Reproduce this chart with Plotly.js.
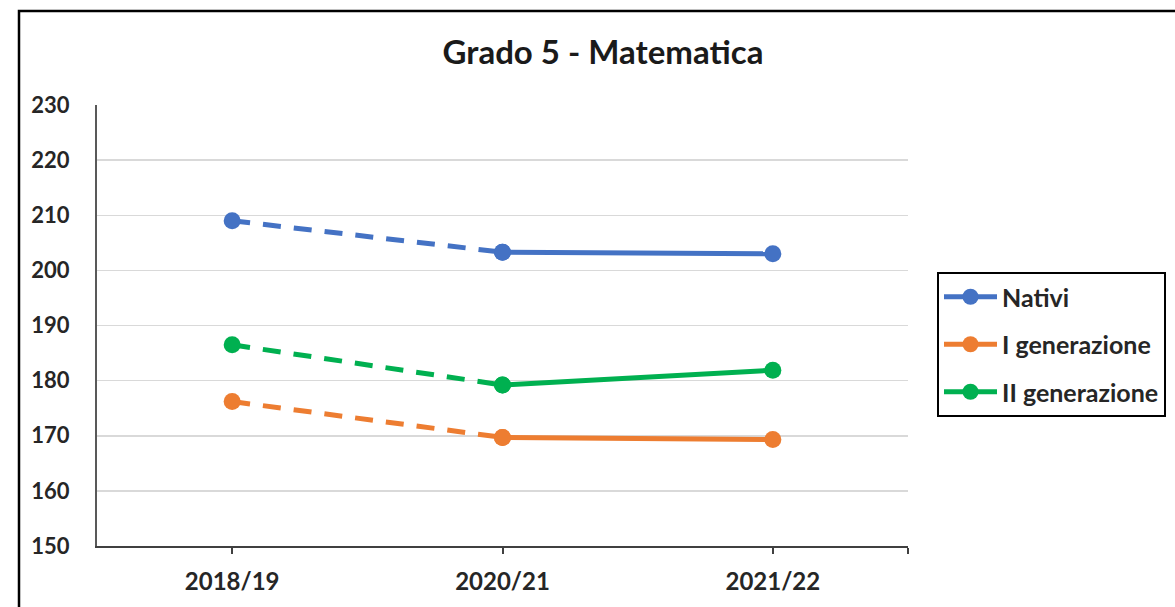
<!DOCTYPE html>
<html>
<head>
<meta charset="utf-8">
<script src="https://cdn.plot.ly/plotly-3.0.1.min.js"></script>
<style>
html,body{margin:0;padding:0;background:#fff;}
#chart{width:1175px;height:607px;}
</style>
</head>
<body>
<div id="chart"></div>
<script>
const categories = ['2018/19', '2020/21', '2021/22'];
const nativi = [209.0, 203.3, 203.0];
const primaGen = [176.2, 169.7, 169.3];
const secondaGen = [186.5, 179.2, 181.9];
const seriesNames = ['Nativi', 'I generazione', 'II generazione'];
const yTicks = [150, 160, 170, 180, 190, 200, 210, 220, 230];

const colors = ['#4472C4', '#ED7D31', '#00B050'];
const allSeries = [nativi, primaGen, secondaGen];
const xIdx = categories.map((_, i) => i);

const traces = [];
allSeries.forEach((vals, s) => {
  // dashed segment (first two years)
  traces.push({
    x: xIdx.slice(0, 2), y: vals.slice(0, 2),
    type: 'scatter', mode: 'lines+markers',
    line: {color: colors[s], width: 5, dash: '18px,13px'},
    marker: {color: colors[s], size: 17},
    name: seriesNames[s], legendgroup: 'g' + s, showlegend: false,
    hoverinfo: 'skip'
  });
  // solid segment (last two years)
  traces.push({
    x: xIdx.slice(1), y: vals.slice(1),
    type: 'scatter', mode: 'lines+markers',
    line: {color: colors[s], width: 5},
    marker: {color: colors[s], size: 17},
    name: seriesNames[s], legendgroup: 'g' + s, showlegend: true
  });
});

const L = 97, R = 908, T = 105, B = 546, W = 1175, H = 607;
const pw = R - L, ph = B - T;
const px = v => (v - L) / pw;
const py = v => (B - v) / ph;

const tickvals = xIdx.concat([2.5]);
const ticktext = categories.concat(['']);

const layout = {
  width: W, height: H,
  margin: {l: L, r: W - R, t: T, b: H - B, pad: 0, autoexpand: false},
  paper_bgcolor: '#fff', plot_bgcolor: '#fff',
  font: {family: 'Lato, "Open Sans", sans-serif', color: '#262626'},
  title: {
    text: '<b>Grado 5 - Matematica</b>',
    font: {size: 33, color: '#1a1a1a', family: 'Lato, sans-serif'},
    x: 603 / W, xref: 'container', xanchor: 'center',
    y: 1 - 52 / H, yref: 'container', yanchor: 'middle'
  },
  xaxis: {
    range: [-0.5, 2.5], tickmode: 'array', tickvals: tickvals, ticktext: ticktext,
    showgrid: false, zeroline: false,
    showline: true, linecolor: '#404040', linewidth: 2,
    ticks: 'outside', ticklen: 6, tickwidth: 2, tickcolor: '#404040',
    tickfont: {size: 24, family: 'Lato, sans-serif', color: '#262626', weight: 'bold'},
    ticklabelstandoff: 7, fixedrange: true
  },
  xaxis2: {
    overlaying: 'x', anchor: 'y', side: 'bottom',
    range: [-0.5, 2.5], tickmode: 'array', tickvals: tickvals,
    showticklabels: false, showgrid: false, zeroline: false, showline: false,
    ticks: 'inside', ticklen: 6, tickwidth: 2, tickcolor: '#404040'
  },
  yaxis: {
    range: [150, 230], tickmode: 'array', tickvals: yTicks,
    showgrid: true, gridcolor: '#D9D9D9', gridwidth: 1.5, zeroline: false,
    showline: true, linecolor: '#595959', linewidth: 2,
    ticks: '',
    tickfont: {size: 22, family: 'Lato, sans-serif', color: '#262626', weight: 'bold'},
    ticklabelstandoff: 21, fixedrange: true
  },
  legend: {
    x: px(937), y: py(272), xanchor: 'left', yanchor: 'top',
    bgcolor: '#fff', bordercolor: '#000', borderwidth: 2,
    font: {size: 25, family: 'Lato, sans-serif', color: '#262626', weight: 'bold'},
    traceorder: 'grouped', tracegroupgap: 12, itemwidth: 53
  },
  shapes: [{
    type: 'rect', xref: 'paper', yref: 'paper',
    x0: px(19), x1: px(1190), y0: py(620), y1: py(11),
    line: {color: '#000', width: 2.5}, fillcolor: 'rgba(0,0,0,0)', layer: 'above'
  }],
  showlegend: true
};

Plotly.newPlot('chart', traces, layout, {displayModeBar: false, staticPlot: true});
</script>
</body>
</html>
